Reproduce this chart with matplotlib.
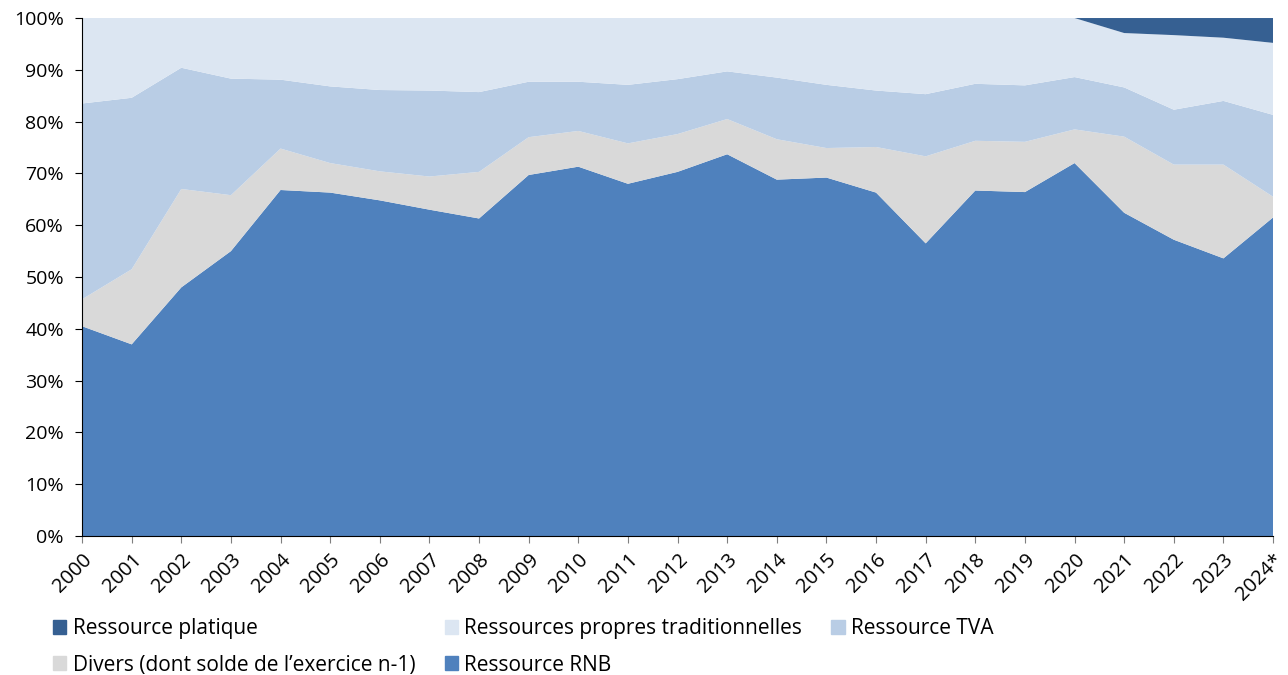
import numpy as np
import matplotlib
matplotlib.use("Agg")
from matplotlib import pyplot as plt
from matplotlib.patches import Patch
from matplotlib.ticker import PercentFormatter

plt.rcParams['font.family'] = ['Open Sans', 'DejaVu Sans']

annees = ['2000', '2001', '2002', '2003', '2004', '2005', '2006', '2007', '2008',
          '2009', '2010', '2011', '2012', '2013', '2014', '2015', '2016', '2017',
          '2018', '2019', '2020', '2021', '2022', '2023', '2024*']

# parts en %
rnb = [40.5, 37.0, 48.0, 55.0, 66.8, 66.3, 64.8, 63.0, 61.3, 69.7, 71.3, 68.0, 70.3,
       73.7, 68.8, 69.2, 66.3, 56.5, 66.7, 66.4, 72.0, 62.4, 57.2, 53.6, 61.5]
divers = [5.2, 14.5, 19.0, 10.8, 8.0, 5.7, 5.6, 6.4, 9.0, 7.3, 6.9, 7.8, 7.3,
          6.8, 7.8, 5.7, 8.8, 16.8, 9.6, 9.7, 6.5, 14.7, 14.5, 18.1, 4.0]
tva = [37.8, 33.1, 23.4, 22.5, 13.3, 14.8, 15.7, 16.6, 15.4, 10.7, 9.5, 11.3, 10.6,
       9.2, 11.9, 12.2, 10.9, 12.0, 11.0, 10.9, 10.1, 9.5, 10.6, 12.3, 15.8]
plastique = [0, 0, 0, 0, 0, 0, 0, 0, 0, 0, 0, 0, 0, 0, 0, 0, 0, 0, 0, 0,
             0, 2.9, 3.3, 3.8, 4.8]
rpt = [100 - a - b - c - d for a, b, c, d in zip(rnb, divers, tva, plastique)]

couleurs = {'rnb': '#4f81bd', 'divers': '#d9d9d9', 'tva': '#b9cde5',
            'rpt': '#dce6f2', 'plastique': '#366092'}

x = np.arange(len(annees))

fig = plt.figure(figsize=(12.88, 6.75), dpi=100)
ax = fig.add_axes([0.0637, 0.2059, 0.9247, 0.7674])

ax.stackplot(x, rnb, divers, tva, rpt, plastique,
             colors=[couleurs['rnb'], couleurs['divers'], couleurs['tva'],
                     couleurs['rpt'], couleurs['plastique']],
             linewidth=0)

ax.set_xlim(0, len(annees) - 1)
ax.set_ylim(0, 100)
ax.set_yticks(np.arange(0, 101, 10))
ax.yaxis.set_major_formatter(PercentFormatter(decimals=0))
ax.set_xticks(x)
ax.set_xticklabels(annees, rotation=45, ha='right', rotation_mode='anchor')
ax.tick_params(axis='x', colors='#7f7f7f', labelcolor='black', length=5, labelsize=14.5, pad=5)
ax.tick_params(axis='y', length=5, labelsize=14, pad=8)
for s in ['top', 'right']:
    ax.spines[s].set_visible(False)

handles = [Patch(color=couleurs['plastique'], label='Ressource platique'),
           Patch(color=couleurs['divers'], label='Divers (dont solde de l\u2019exercice n-1)'),
           Patch(color=couleurs['rpt'], label='Ressources propres traditionnelles'),
           Patch(color=couleurs['rnb'], label='Ressource RNB'),
           Patch(color=couleurs['tva'], label='Ressource TVA')]
fig.legend(handles=handles, ncol=3, loc='upper left', bbox_to_anchor=(0.033, 0.1),
           frameon=False, fontsize=15, handlelength=0.65, handleheight=0.65,
           handletextpad=0.3, columnspacing=1.4, labelspacing=0.75, borderpad=0)

fig.savefig('out.png', dpi=100)
